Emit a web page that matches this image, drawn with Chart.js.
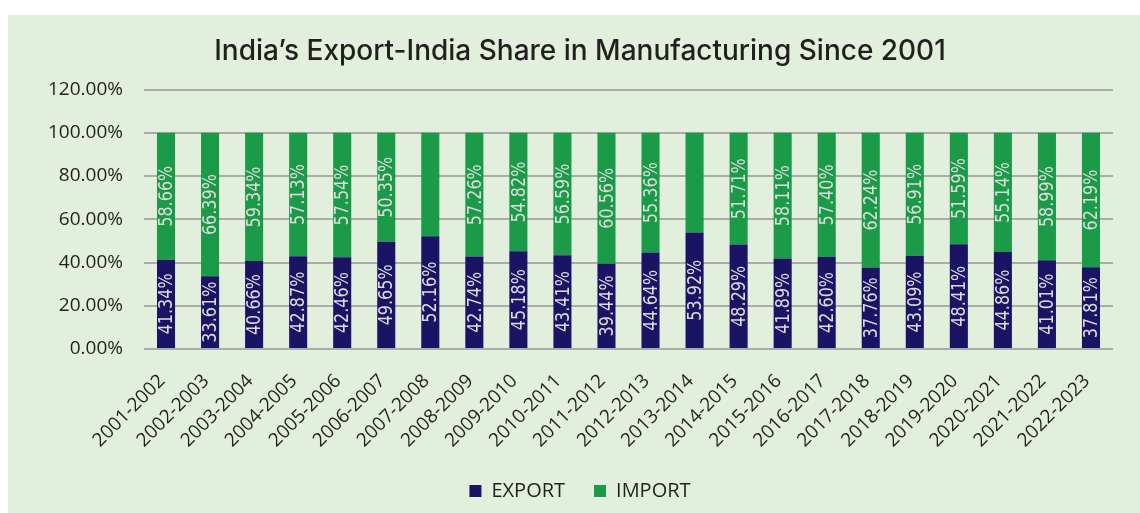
<!DOCTYPE html>
<html>
<head>
<meta charset="utf-8">
<title>India's Export-India Share in Manufacturing</title>
<script src="https://cdn.jsdelivr.net/npm/chart.js@4.4.1/dist/chart.umd.min.js"></script>
<style>
  html, body { margin: 0; padding: 0; background: #fff; }
  #wrap { position: absolute; left: 8px; top: 15px; width: 1132px; height: 498px; background: #e2efdc; }
</style>
</head>
<body>
<div id="wrap"><canvas id="chart" width="1132" height="498"></canvas></div>
<script>
// financial years
const years = [
  '2001-2002', '2002-2003', '2003-2004', '2004-2005', '2005-2006', '2006-2007',
  '2007-2008', '2008-2009', '2009-2010', '2010-2011', '2011-2012', '2012-2013',
  '2013-2014', '2014-2015', '2015-2016', '2016-2017', '2017-2018', '2018-2019',
  '2019-2020', '2020-2021', '2021-2022', '2022-2023'
];
// share in %
const exportShare = [
  41.34, 33.61, 40.66, 42.87, 42.46, 49.65, 52.16, 42.74, 45.18, 43.41, 39.44,
  44.64, 53.92, 48.29, 41.89, 42.60, 37.76, 43.09, 48.41, 44.86, 41.01, 37.81
];
const importShare = [
  58.66, 66.39, 59.34, 57.13, 57.54, 50.35, 47.84, 57.26, 54.82, 56.59, 60.56,
  55.36, 46.08, 51.71, 58.11, 57.40, 62.24, 56.91, 51.59, 55.14, 58.99, 62.19
];
// the source shows no import label for these years
const noImportLabel = ['2007-2008', '2013-2014'];
const yTicks = [0, 20, 40, 60, 80, 100, 120];

const barLabels = {
  id: 'barLabels',
  afterDatasetsDraw(chart) {
    const ctx = chart.ctx;
    chart.data.datasets.forEach((ds, di) => {
      const meta = chart.getDatasetMeta(di);
      meta.data.forEach((bar, i) => {
        if (ds.label === 'IMPORT' && noImportLabel.includes(years[i])) return;
        const cy = (bar.y + bar.base) / 2;
        ctx.save();
        ctx.translate(bar.x, cy);
        ctx.rotate(-Math.PI / 2);
        ctx.scale(0.8, 1);
        ctx.font = '20px "DejaVu Sans"';
        ctx.fillStyle = '#dcdcdc';
        ctx.textAlign = 'center';
        ctx.textBaseline = 'middle';
        ctx.fillText(ds.data[i].toFixed(2) + '%', 0, 1);
        ctx.restore();
      });
    });
  }
};

new Chart(document.getElementById('chart'), {
  type: 'bar',
  data: {
    labels: years,
    datasets: [
      { label: 'EXPORT', data: exportShare, backgroundColor: '#1b1464' },
      { label: 'IMPORT', data: importShare, backgroundColor: '#1b9a47' }
    ]
  },
  options: {
    responsive: false,
    animation: false,
    barPercentage: 0.41,
    categoryPercentage: 1,
    layout: { padding: { left: 39, right: 27, top: 20, bottom: 2 } },
    plugins: {
      title: {
        display: true,
        text: 'India\u2019s Export-India Share in Manufacturing Since 2001',
        color: '#231f20',
        font: { family: 'Inter, sans-serif', size: 28, weight: '500' },
        padding: { top: 0, bottom: 21 }
      },
      legend: {
        position: 'bottom',
        labels: {
          color: '#231f20',
          font: { family: '"Open Sans", sans-serif', size: 20 },
          boxWidth: 12,
          boxHeight: 12,
          padding: 29
        }
      },
      tooltip: { enabled: false }
    },
    scales: {
      x: {
        stacked: true,
        grid: { display: false },
        border: { display: false },
        ticks: {
          color: '#231f20',
          font: { family: '"Open Sans", sans-serif', size: 19 },
          minRotation: 45,
          maxRotation: 45,
          padding: 13,
          labelOffset: -4,
          autoSkip: false
        },
        afterFit(axis) { axis.height = 103; }
      },
      y: {
        stacked: true,
        min: 0,
        max: 120,
        afterBuildTicks(axis) { axis.ticks = yTicks.map(v => ({ value: v })); },
        grid: { color: '#a9aca7', lineWidth: 2, drawTicks: false },
        border: { display: false },
        ticks: {
          color: '#231f20',
          font: { family: '"Open Sans", sans-serif', size: 19 },
          padding: 21,
          callback: v => v.toFixed(2) + '%'
        },
        afterFit(axis) { axis.width = 97; }
      }
    }
  },
  plugins: [barLabels]
});
</script>
</body>
</html>
